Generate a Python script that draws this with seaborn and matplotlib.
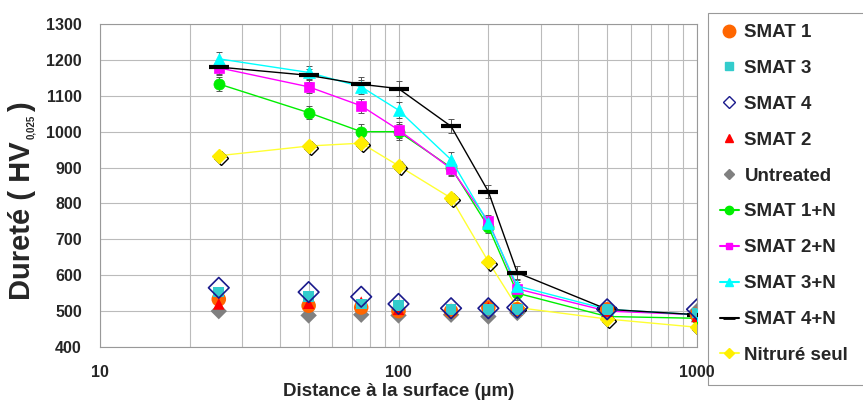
import matplotlib
matplotlib.use("Agg")
import matplotlib.pyplot as plt
import matplotlib.patheffects as pe
from matplotlib.lines import Line2D
from matplotlib.patches import Rectangle
import seaborn as sns
import numpy as np
import pandas as pd

distance = [25, 50, 75, 100, 150, 200, 250, 500, 1000]

# SMAT only (no nitriding) + untreated
smat1 = [533, 515, 510, 500, 500, 510, 505, 505, 490]
smat3 = [553, 540, 520, 515, 505, 505, 505, 505, 495]
smat4 = [565, 553, 540, 520, 508, 508, 510, 505, 505]
smat2 = [520, 522, 525, 505, 505, 510, 505, 500, 485]
untreated = [500, 488, 490, 488, 490, 485, 495, 500, 500]

# nitrided series
smat1_n = [1133, 1053, 1000, 1000, 900, 735, 550, 485, 480]
smat2_n = [1178, 1125, 1072, 1005, 897, 750, 562, 500, 490]
smat3_n = [1203, 1165, 1125, 1060, 922, 745, 570, 505, 490]
smat4_n = [1180, 1157, 1132, 1120, 1015, 833, 607, 505, 490]
nitrure = [933, 960, 968, 905, 815, 638, 510, 478, 455]
err_n = [20, 18, 20, 22, 20, 18, 20, 10, 10]

sns.set_style("white")
plt.rcParams['font.family'] = ['Liberation Sans', 'DejaVu Sans']
plt.rcParams['font.weight'] = 'bold'

W, H = 863, 401
fig = plt.figure(figsize=(W / 100, H / 100), dpi=100)
ax = fig.add_axes([100 / W, 54 / H, 597 / W, 323 / H])
ax.set_xscale('log')

# nitrided curves with error bars
n_series = [
    ("SMAT 1+N", smat1_n, "#00ee00", "o", 8),
    ("SMAT 2+N", smat2_n, "#ff00ff", "s", 7),
    ("SMAT 3+N", smat3_n, "#00ffff", "^", 8),
    ("SMAT 4+N", smat4_n, "#000000", "_", 14),
]
for name, vals, col, mk, ms in n_series:
    ax.errorbar(distance, vals, yerr=err_n, fmt='none', ecolor='#555555',
                elinewidth=0.7, capsize=2.5, capthick=0.7, zorder=2)
    df = pd.DataFrame({"d": distance, "hv": vals})
    sns.lineplot(data=df, x="d", y="hv", ax=ax, color=col, lw=1.0,
                 marker=mk, markersize=ms, markeredgecolor=col,
                 markeredgewidth=3 if mk == "_" else 0.5, zorder=3)

df = pd.DataFrame({"d": distance, "hv": nitrure})
sns.lineplot(data=df, x="d", y="hv", ax=ax, color="#ffff33", lw=1.0, zorder=3)
ax.plot(distance, nitrure, ls='none', marker='D', ms=7, color='#ffee00',
        mec='#ffee00', zorder=4,
        path_effects=[pe.SimpleLineShadow(offset=(1.5, -1.5), shadow_color='black', alpha=1),
                      pe.Normal()])

# SMAT only points
pts = [
    ("Untreated", untreated, dict(marker='D', color='#808080', s=70)),
    ("SMAT 1", smat1, dict(marker='o', color='#ff6600', s=110)),
    ("SMAT 2", smat2, dict(marker='^', color='#ff0000', s=70)),
    ("SMAT 3", smat3, dict(marker='s', color='#33cccc', s=60)),
]
for name, vals, kw in pts:
    df = pd.DataFrame({"d": distance, "hv": vals})
    sns.scatterplot(data=df, x="d", y="hv", ax=ax, edgecolor='none', zorder=5, **kw)
df = pd.DataFrame({"d": distance, "hv": smat4})
sns.scatterplot(data=df, x="d", y="hv", ax=ax, marker='D', s=110, facecolor='none',
                edgecolor='#1a1a8c', linewidth=1.2, zorder=6)

ax.set_xlim(10, 1000)
ax.set_ylim(400, 1300)
ax.set_yticks(np.arange(400, 1301, 100))
ax.set_xticks([10, 100, 1000])
ax.set_xticklabels(["10", "100", "1000"])
ax.grid(True, which='major', color='#bbbbbb', lw=0.8)
ax.grid(True, which='minor', axis='x', color='#bbbbbb', lw=0.8)
ax.tick_params(axis='both', labelsize=11.5, length=4, color='#999999')
ax.tick_params(axis='y', pad=9)
ax.tick_params(axis='x', pad=9)
for lab in ax.get_xticklabels() + ax.get_yticklabels():
    lab.set_fontweight('bold')
for s in ax.spines.values():
    s.set_color('#999999')
    s.set_linewidth(0.8)

ax.set_xlabel("Distance à la surface (µm)", fontsize=13.5, fontweight='bold', labelpad=2)
ax.set_ylabel("")

# y label built from pieces so the subscript can be small
fig.canvas.draw()
r = fig.canvas.get_renderer()
t1 = fig.text(22 / W, 1 - 300 / H, "Dureté ( HV", rotation=90, ha='center', va='bottom',
              fontsize=21, fontweight='bold')
bb = t1.get_window_extent(r)
t2 = fig.text(36 / W, (bb.y1 + 2) / H, "0,025", rotation=90, ha='right', va='bottom',
              fontsize=7, fontweight='bold')
bb2 = t2.get_window_extent(r)
fig.text(22 / W, (bb2.y1 + 3) / H, ")", rotation=90, ha='center', va='bottom',
         fontsize=21, fontweight='bold')

handles = [
    Line2D([], [], ls='none', marker='o', color='#ff6600', ms=9),
    Line2D([], [], ls='none', marker='s', color='#33cccc', ms=6),
    Line2D([], [], ls='none', marker='D', mfc='none', mec='#1a1a8c', ms=6),
    Line2D([], [], ls='none', marker='^', color='#ff0000', ms=6),
    Line2D([], [], ls='none', marker='D', color='#808080', ms=5.5),
    Line2D([], [], color='#00ee00', marker='o', ms=6),
    Line2D([], [], color='#ff00ff', marker='s', ms=5),
    Line2D([], [], color='#00ffff', marker='^', ms=6),
    Line2D([], [], color='#000000', marker='_', ms=8, mew=2),
    Line2D([], [], color='#ffff33', marker='D', mfc='#ffee00', mec='#ffee00', ms=5),
]
labels = ["SMAT 1", "SMAT 3", "SMAT 4", "SMAT 2", "Untreated",
          "SMAT 1+N", "SMAT 2+N", "SMAT 3+N", "SMAT 4+N", "Nitruré seul"]
leg = fig.legend(handles, labels, loc='upper left', bbox_to_anchor=(720 / W, 1 - 24 / H),
                 prop={'weight': 'bold', 'size': 13.5}, frameon=False,
                 handlelength=1.0, handletextpad=0.3,
                 labelspacing=1.0, borderpad=0.0, borderaxespad=0)
leg.set_zorder(-1)

# legend box, drawn by hand (taller than the entries, like the original)
fig.patches.append(Rectangle((708 / W, 1 - 385 / H), 0.2, (385 - 13) / H,
                             transform=fig.transFigure, fill=False,
                             edgecolor='#999999', lw=0.8, zorder=-2))

fig.savefig("out.png", dpi=100)
